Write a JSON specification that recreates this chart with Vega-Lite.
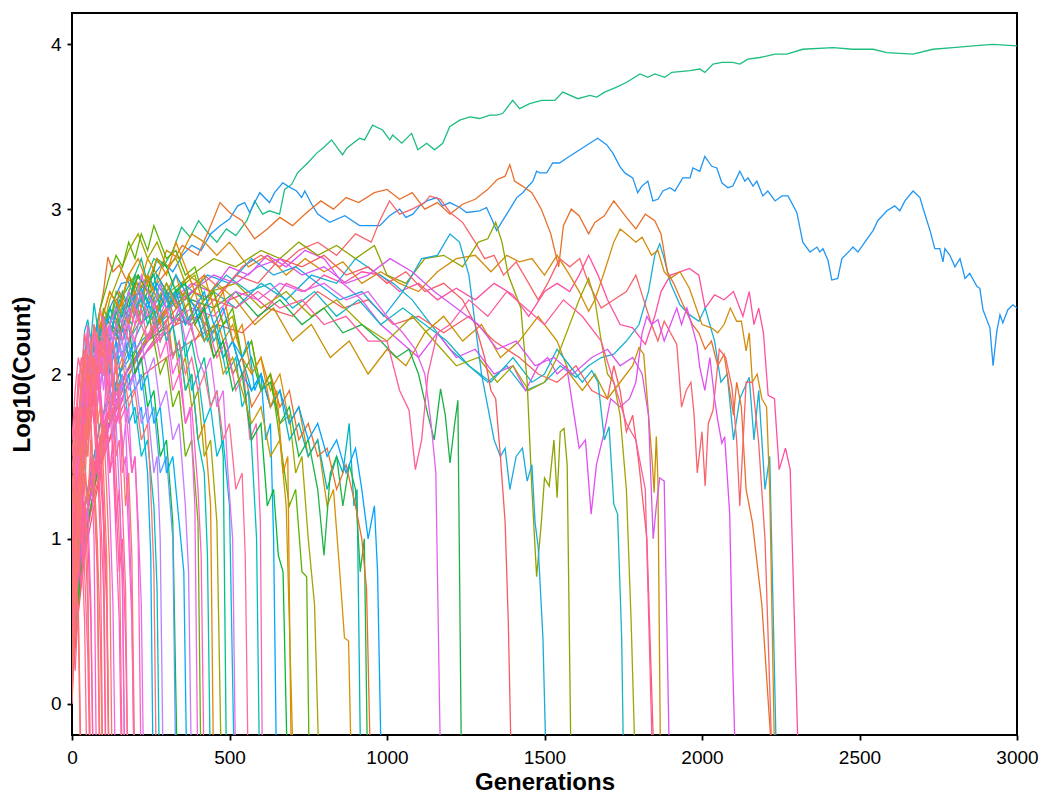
{
  "$schema": "https://vega.github.io/schema/vega-lite/v6.json",
  "width": 945,
  "height": 722,
  "autosize": {"type": "none"},
  "padding": {"left": 72, "top": 13, "right": 26, "bottom": 61},
  "background": "white",
  "config": {
    "view": {"stroke": "black", "strokeWidth": 2},
    "font": "Liberation Sans"
  },
  "data": {
    "format": {"type": "csv", "parse": {"g": "number", "v": "number"}},
    "values": "s,g,v\nG,0,0.4\nG,10,0.9\nG,20,1.3\nG,30,1.6\nG,45,1.9\nG,60,2.1\nG,80,2.2\nG,100,2.35\nG,120,2.3\nG,140,2.45\nG,170,2.5\nG,200,2.6\nG,230,2.55\nG,260,2.7\nG,290,2.65\nG,320,2.75\nG,348,2.89\nG,375,2.83\nG,402,2.93\nG,430,2.86\nG,460,2.8\nG,490,2.88\nG,520,2.84\nG,555,2.93\nG,580,3.05\nG,605,2.97\nG,627,2.99\nG,659,2.97\nG,675,3.12\nG,697,3.15\nG,716,3.22\nG,748,3.28\nG,777,3.34\nG,796,3.37\nG,824,3.42\nG,843,3.37\nG,859,3.33\nG,872,3.37\nG,913,3.43\nG,929,3.42\nG,954,3.51\nG,986,3.48\nG,1009,3.42\nG,1018,3.45\nG,1047,3.40\nG,1078,3.46\nG,1098,3.36\nG,1126,3.40\nG,1151,3.36\nG,1177,3.40\nG,1199,3.50\nG,1231,3.54\nG,1263,3.56\nG,1294,3.55\nG,1326,3.57\nG,1348,3.57\nG,1367,3.58\nG,1399,3.66\nG,1421,3.61\nG,1453,3.64\nG,1491,3.66\nG,1533,3.66\nG,1558,3.71\nG,1606,3.67\nG,1644,3.69\nG,1666,3.68\nG,1691,3.71\nG,1729,3.74\nG,1761,3.77\nG,1803,3.82\nG,1828,3.80\nG,1850,3.82\nG,1882,3.80\nG,1904,3.83\nG,1962,3.84\nG,1993,3.85\nG,2009,3.83\nG,2035,3.88\nG,2063,3.89\nG,2098,3.89\nG,2120,3.88\nG,2146,3.91\nG,2184,3.92\nG,2232,3.94\nG,2269,3.94\nG,2320,3.97\nG,2416,3.98\nG,2479,3.97\nG,2543,3.97\nG,2587,3.95\nG,2670,3.94\nG,2733,3.97\nG,2797,3.98\nG,2860,3.99\nG,2924,4.00\nG,3000,3.99\nB,0,0.3\nB,10,0.8\nB,20,1.2\nB,30,1.5\nB,40,1.8\nB,60,2.0\nB,80,2.2\nB,100,2.3\nB,120,2.4\nB,140,2.48\nB,157,2.55\nB,179,2.56\nB,200,2.45\nB,230,2.55\nB,260,2.6\nB,290,2.68\nB,320,2.62\nB,350,2.72\nB,380,2.78\nB,410,2.75\nB,440,2.85\nB,470,2.9\nB,500,2.94\nB,526,3.02\nB,548,3.04\nB,564,2.98\nB,596,3.10\nB,627,3.04\nB,643,3.10\nB,669,3.16\nB,685,3.14\nB,713,3.11\nB,729,3.07\nB,739,3.11\nB,761,3.03\nB,780,2.97\nB,818,2.92\nB,866,2.96\nB,913,2.90\nB,977,2.90\nB,1008,2.96\nB,1040,3.0\nB,1060,2.95\nB,1082,2.97\nB,1104,3.02\nB,1126,3.05\nB,1158,3.07\nB,1177,3.02\nB,1199,3.04\nB,1231,3.01\nB,1253,2.98\nB,1294,2.99\nB,1316,3.01\nB,1335,2.93\nB,1348,2.87\nB,1367,2.93\nB,1390,3.0\nB,1412,3.07\nB,1431,3.1\nB,1444,3.13\nB,1463,3.17\nB,1475,3.23\nB,1485,3.22\nB,1507,3.22\nB,1526,3.28\nB,1548,3.28\nB,1571,3.31\nB,1612,3.36\nB,1644,3.40\nB,1669,3.43\nB,1698,3.39\nB,1717,3.34\nB,1739,3.26\nB,1755,3.22\nB,1780,3.19\nB,1796,3.10\nB,1809,3.14\nB,1828,3.17\nB,1844,3.05\nB,1860,3.06\nB,1876,3.11\nB,1898,3.13\nB,1914,3.11\nB,1939,3.19\nB,1962,3.19\nB,1971,3.25\nB,1993,3.23\nB,2009,3.32\nB,2031,3.26\nB,2047,3.25\nB,2063,3.16\nB,2082,3.13\nB,2098,3.14\nB,2120,3.23\nB,2136,3.17\nB,2146,3.19\nB,2162,3.14\nB,2174,3.17\nB,2193,3.08\nB,2209,3.11\nB,2232,3.05\nB,2254,3.08\nB,2273,3.08\nB,2301,2.98\nB,2320,2.80\nB,2343,2.74\nB,2365,2.77\nB,2374,2.74\nB,2384,2.76\nB,2400,2.69\nB,2412,2.57\nB,2431,2.58\nB,2444,2.70\nB,2470,2.75\nB,2479,2.77\nB,2495,2.74\nB,2517,2.80\nB,2543,2.87\nB,2558,2.93\nB,2587,2.99\nB,2612,3.02\nB,2628,2.99\nB,2644,3.05\nB,2670,3.11\nB,2692,3.07\nB,2701,3.01\nB,2724,2.87\nB,2739,2.76\nB,2755,2.76\nB,2765,2.68\nB,2771,2.76\nB,2787,2.72\nB,2803,2.65\nB,2819,2.70\nB,2835,2.58\nB,2850,2.61\nB,2873,2.53\nB,2882,2.52\nB,2892,2.39\nB,2914,2.28\nB,2924,2.05\nB,2936,2.26\nB,2946,2.36\nB,2955,2.31\nB,2971,2.39\nB,2987,2.42\nB,3000,2.40\nM1,0,0.3\nM1,30,0.9\nM1,70,1.4\nM1,120,1.7\nM1,170,1.9\nM1,220,2.1\nM1,270,2.2\nM1,330,2.3\nM1,400,2.35\nM1,450,2.25\nM1,500,2.45\nM1,560,2.5\nM1,620,2.4\nM1,680,2.55\nM1,740,2.5\nM1,800,2.6\nM1,860,2.55\nM1,920,2.62\nM1,980,2.6\nM1,1040,2.5\nM1,1100,2.55\nM1,1160,2.45\nM1,1220,2.52\nM1,1280,2.45\nM1,1340,2.55\nM1,1400,2.48\nM1,1450,2.35\nM1,1500,2.5\nM1,1540,2.55\nM1,1580,2.5\nM1,1610,2.6\nM1,1640,2.72\nM1,1670,2.6\nM1,1700,2.45\nM1,1740,2.3\nM1,1780,2.28\nM1,1820,2.18\nM1,1850,2.35\nM1,1870,2.5\nM1,1900,2.6\nM1,1930,2.62\nM1,1960,2.64\nM1,1990,2.6\nM1,2010,2.4\nM1,2040,2.48\nM1,2070,2.45\nM1,2100,2.5\nM1,2130,2.35\nM1,2150,2.5\nM1,2165,2.3\nM1,2180,2.4\nM1,2195,2.25\nM1,2210,1.87\nM1,2230,1.85\nM1,2245,1.42\nM1,2265,1.55\nM1,2280,1.42\nM1,2308,-0.5\nM2,0,0.4\nM2,40,1.2\nM2,90,1.6\nM2,150,2.0\nM2,220,2.2\nM2,300,2.35\nM2,380,2.3\nM2,450,2.5\nM2,520,2.4\nM2,600,2.55\nM2,680,2.45\nM2,760,2.6\nM2,840,2.55\nM2,900,2.7\nM2,960,2.62\nM2,1020,2.55\nM2,1080,2.45\nM2,1140,2.3\nM2,1200,2.15\nM2,1260,2.05\nM2,1320,1.95\nM2,1380,2.05\nM2,1440,1.9\nM2,1500,1.95\nM2,1550,2.05\nM2,1600,1.98\nM2,1640,2.05\nM2,1680,2.1\nM2,1720,2.12\nM2,1760,2.2\nM2,1800,2.3\nM2,1830,2.5\nM2,1850,2.72\nM2,1866,2.79\nM2,1880,2.7\nM2,1900,2.55\nM2,1930,2.42\nM2,1960,2.36\nM2,1990,2.32\nM2,2010,2.4\nM2,2040,2.2\nM2,2060,1.95\nM2,2080,2.0\nM2,2100,1.6\nM2,2120,1.85\nM2,2150,1.98\nM2,2165,1.6\nM2,2180,1.9\nM2,2200,1.3\nM2,2215,1.5\nM2,2238,-0.5\nM3,0,0.3\nM3,20,1.2\nM3,40,1.8\nM3,60,2.2\nM3,80,2.3\nM3,100,2.5\nM3,114,2.71\nM3,130,2.62\nM3,150,2.66\nM3,170,2.58\nM3,200,2.55\nM3,250,2.5\nM3,300,2.62\nM3,350,2.78\nM3,400,2.72\nM3,440,2.9\nM3,470,3.04\nM3,500,2.98\nM3,540,2.93\nM3,580,2.82\nM3,620,2.88\nM3,660,2.95\nM3,700,2.9\nM3,740,2.97\nM3,790,3.05\nM3,830,3.0\nM3,870,3.07\nM3,910,3.04\nM3,960,3.10\nM3,1000,3.12\nM3,1040,3.06\nM3,1080,3.10\nM3,1120,3.0\nM3,1160,3.04\nM3,1200,2.97\nM3,1240,3.03\nM3,1280,3.06\nM3,1320,3.12\nM3,1350,3.18\nM3,1375,3.2\nM3,1390,3.27\nM3,1405,3.17\nM3,1430,3.14\nM3,1460,3.10\nM3,1490,3.0\nM3,1520,2.85\nM3,1545,2.65\nM3,1560,2.9\nM3,1585,3.0\nM3,1610,2.96\nM3,1640,2.85\nM3,1660,2.92\nM3,1690,2.96\nM3,1720,3.05\nM3,1760,2.95\nM3,1790,2.88\nM3,1820,2.97\nM3,1850,2.93\nM3,1870,2.85\nM3,1890,2.62\nM3,1910,2.55\nM3,1940,2.42\nM3,1970,2.3\nM3,1990,2.25\nM3,2010,2.15\nM3,2030,2.2\nM3,2050,2.05\nM3,2070,2.12\nM3,2100,1.75\nM3,2110,1.95\nM3,2125,1.8\nM3,2140,1.3\nM3,2160,1.1\nM3,2190,0.6\nM3,2228,-0.5\nM4,0,0.3\nM4,40,1.1\nM4,90,1.6\nM4,150,2.0\nM4,200,2.3\nM4,260,2.5\nM4,300,2.75\nM4,340,2.7\nM4,380,2.85\nM4,420,2.8\nM4,460,2.72\nM4,500,2.8\nM4,560,2.65\nM4,620,2.72\nM4,680,2.6\nM4,740,2.7\nM4,800,2.62\nM4,860,2.68\nM4,920,2.55\nM4,980,2.62\nM4,1040,2.55\nM4,1100,2.5\nM4,1160,2.62\nM4,1220,2.7\nM4,1280,2.72\nM4,1330,2.62\nM4,1380,2.72\nM4,1420,2.68\nM4,1460,2.7\nM4,1500,2.6\nM4,1540,2.72\nM4,1580,2.6\nM4,1610,2.5\nM4,1640,2.38\nM4,1660,2.45\nM4,1690,2.62\nM4,1720,2.8\nM4,1740,2.88\nM4,1760,2.85\nM4,1790,2.8\nM4,1810,2.83\nM4,1840,2.72\nM4,1860,2.75\nM4,1880,2.62\nM4,1900,2.58\nM4,1930,2.62\nM4,1960,2.52\nM4,2000,2.3\nM4,2030,2.28\nM4,2050,2.25\nM4,2070,2.3\nM4,2090,2.4\nM4,2110,2.32\nM4,2125,2.32\nM4,2140,2.14\nM4,2150,2.25\nM4,2160,1.95\nM4,2175,2.0\nM4,2190,1.85\nM4,2205,1.8\nM4,2215,1.3\nM4,2232,-0.5\nM5,0,0.1\nM5,30,0.8\nM5,70,1.3\nM5,120,1.7\nM5,180,2.0\nM5,240,2.2\nM5,300,2.4\nM5,360,2.5\nM5,420,2.6\nM5,480,2.5\nM5,540,2.65\nM5,600,2.72\nM5,660,2.65\nM5,720,2.75\nM5,780,2.8\nM5,840,2.72\nM5,900,2.85\nM5,950,2.8\nM5,977,2.93\nM5,1008,3.05\nM5,1040,2.97\nM5,1080,3.0\nM5,1120,3.04\nM5,1136,3.08\nM5,1170,3.06\nM5,1200,2.98\nM5,1240,2.92\nM5,1280,2.8\nM5,1310,2.7\nM5,1340,2.72\nM5,1370,2.6\nM5,1410,2.68\nM5,1450,2.55\nM5,1480,2.45\nM5,1510,2.55\nM5,1548,2.7\nM5,1580,2.65\nM5,1612,2.7\nM5,1640,2.55\nM5,1680,2.4\nM5,1720,2.45\nM5,1760,2.5\nM5,1790,2.6\nM5,1810,2.48\nM5,1840,2.3\nM5,1860,2.2\nM5,1880,2.32\nM5,1900,2.25\nM5,1920,2.18\nM5,1935,1.8\nM5,1950,1.9\nM5,1965,1.95\nM5,1975,1.75\nM5,1985,1.4\nM5,2000,1.65\nM5,2010,1.32\nM5,2020,1.7\nM5,2035,1.78\nM5,2055,2.15\nM5,2075,2.1\nM5,2095,1.92\nM5,2110,1.6\nM5,2120,1.2\nM5,2140,1.95\nM5,2160,1.95\nM5,2180,1.58\nM5,2200,1.0\nM5,2225,-0.5\nM6,0,0.5\nM6,30,1.1\nM6,80,1.5\nM6,140,1.9\nM6,200,2.1\nM6,260,2.3\nM6,320,2.45\nM6,380,2.55\nM6,440,2.5\nM6,500,2.65\nM6,560,2.6\nM6,620,2.72\nM6,680,2.65\nM6,740,2.75\nM6,800,2.7\nM6,860,2.55\nM6,920,2.45\nM6,980,2.3\nM6,1040,2.2\nM6,1100,2.1\nM6,1160,2.25\nM6,1220,2.1\nM6,1280,2.15\nM6,1340,2.0\nM6,1400,2.05\nM6,1440,1.9\nM6,1480,2.05\nM6,1510,2.1\nM6,1540,2.0\nM6,1570,2.05\nM6,1590,1.8\nM6,1610,1.55\nM6,1630,1.6\nM6,1648,1.15\nM6,1665,1.45\nM6,1690,1.65\nM6,1710,1.85\nM6,1740,1.8\nM6,1770,1.85\nM6,1790,1.95\nM6,1810,2.25\nM6,1825,2.35\nM6,1840,2.3\nM6,1860,2.33\nM6,1880,2.2\nM6,1900,2.3\nM6,1920,2.4\nM6,1935,2.3\nM6,1952,2.4\nM6,1970,2.28\nM6,1984,2.18\nM6,1993,2.04\nM6,2009,1.9\nM6,2025,2.1\nM6,2040,1.85\nM6,2050,1.72\nM6,2063,1.58\nM6,2072,1.62\nM6,2088,1.15\nM6,2098,0.2\nM6,2108,-0.5\nM7,0,0.2\nM7,40,1.0\nM7,100,1.5\nM7,160,1.8\nM7,230,2.0\nM7,300,2.1\nM7,380,2.2\nM7,460,2.3\nM7,540,2.25\nM7,620,2.4\nM7,700,2.35\nM7,780,2.5\nM7,860,2.4\nM7,940,2.45\nM7,1020,2.3\nM7,1100,2.35\nM7,1180,2.25\nM7,1260,2.35\nM7,1340,2.2\nM7,1420,2.1\nM7,1480,2.0\nM7,1540,1.95\nM7,1600,2.05\nM7,1650,1.9\nM7,1700,1.85\nM7,1720,2.05\nM7,1740,1.9\nM7,1760,1.65\nM7,1780,1.75\nM7,1800,1.45\nM7,1825,1.0\nM7,1850,-0.5\nM8,0,0.3\nM8,30,1.0\nM8,80,1.5\nM8,140,1.9\nM8,200,2.1\nM8,270,2.3\nM8,340,2.5\nM8,400,2.4\nM8,460,2.55\nM8,520,2.45\nM8,580,2.3\nM8,640,2.4\nM8,700,2.2\nM8,760,2.3\nM8,820,2.1\nM8,880,2.2\nM8,940,2.0\nM8,1000,2.15\nM8,1060,2.05\nM8,1120,2.25\nM8,1180,2.35\nM8,1240,2.2\nM8,1300,2.3\nM8,1360,2.1\nM8,1420,2.2\nM8,1480,2.35\nM8,1540,2.2\nM8,1580,2.0\nM8,1620,1.9\nM8,1660,2.0\nM8,1700,1.85\nM8,1740,1.95\nM8,1780,2.05\nM8,1800,2.16\nM8,1815,2.12\nM8,1830,1.76\nM8,1843,1.44\nM8,1848,1.28\nM8,1855,1.62\nM8,1860,1.36\nM8,1869,-0.5\nM9,0,0.4\nM9,40,1.2\nM9,90,1.7\nM9,150,2.1\nM9,210,2.3\nM9,280,2.4\nM9,350,2.55\nM9,420,2.45\nM9,490,2.6\nM9,560,2.5\nM9,630,2.55\nM9,700,2.4\nM9,770,2.5\nM9,840,2.35\nM9,910,2.45\nM9,980,2.3\nM9,1050,2.4\nM9,1120,2.3\nM9,1190,2.2\nM9,1260,2.05\nM9,1330,1.95\nM9,1400,2.1\nM9,1460,1.95\nM9,1500,2.0\nM9,1540,2.15\nM9,1580,2.05\nM9,1620,1.95\nM9,1650,2.02\nM9,1670,1.95\nM9,1690,1.6\nM9,1705,1.68\nM9,1720,1.21\nM9,1732,1.15\nM9,1745,0.4\nM9,1752,-0.5\nM10,0,0.2\nM10,40,1.0\nM10,100,1.6\nM10,160,1.9\nM10,230,2.2\nM10,300,2.4\nM10,370,2.6\nM10,440,2.5\nM10,520,2.55\nM10,600,2.4\nM10,680,2.5\nM10,760,2.35\nM10,840,2.45\nM10,920,2.3\nM10,1000,2.2\nM10,1080,2.35\nM10,1150,2.2\nM10,1220,2.05\nM10,1290,2.1\nM10,1350,1.95\nM10,1400,2.05\nM10,1450,1.9\nM10,1500,1.95\nM10,1540,2.1\nM10,1580,2.3\nM10,1610,2.45\nM10,1640,2.58\nM10,1660,2.45\nM10,1680,2.2\nM10,1700,2.0\nM10,1720,1.95\nM10,1740,1.75\nM10,1760,1.3\nM10,1775,0.5\nM10,1790,-0.5\nM11,0,0.3\nM11,40,1.1\nM11,100,1.6\nM11,170,2.0\nM11,240,2.3\nM11,310,2.5\nM11,380,2.6\nM11,450,2.7\nM11,520,2.65\nM11,600,2.75\nM11,660,2.7\nM11,720,2.8\nM11,780,2.72\nM11,840,2.78\nM11,900,2.7\nM11,960,2.78\nM11,1000,2.6\nM11,1060,2.55\nM11,1120,2.7\nM11,1180,2.72\nM11,1240,2.65\nM11,1290,2.8\nM11,1320,2.82\nM11,1345,2.92\nM11,1365,2.8\nM11,1385,2.6\nM11,1405,2.5\nM11,1425,2.4\nM11,1445,1.95\nM11,1460,1.3\nM11,1475,0.77\nM11,1490,1.1\nM11,1500,1.37\nM11,1515,1.32\nM11,1530,1.6\nM11,1540,1.25\nM11,1550,1.65\nM11,1562,1.67\nM11,1572,1.45\nM11,1585,-0.5\nM12,0,0.4\nM12,40,1.2\nM12,90,1.7\nM12,150,2.0\nM12,220,2.3\nM12,290,2.5\nM12,360,2.45\nM12,430,2.6\nM12,500,2.55\nM12,570,2.7\nM12,640,2.6\nM12,710,2.65\nM12,780,2.55\nM12,850,2.45\nM12,920,2.5\nM12,990,2.35\nM12,1050,2.5\nM12,1110,2.7\nM12,1160,2.72\nM12,1200,2.85\nM12,1230,2.8\nM12,1260,2.6\nM12,1280,2.3\nM12,1300,2.0\nM12,1320,1.8\nM12,1340,1.6\nM12,1360,1.5\nM12,1375,1.55\nM12,1390,1.3\nM12,1410,1.5\nM12,1430,1.55\nM12,1445,1.35\nM12,1460,1.45\nM12,1470,1.1\nM12,1480,0.95\nM12,1495,0.4\nM12,1507,-0.5\nM13,0,0.2\nM13,40,0.9\nM13,100,1.5\nM13,170,1.9\nM13,240,2.15\nM13,310,2.35\nM13,380,2.5\nM13,450,2.45\nM13,520,2.6\nM13,590,2.55\nM13,660,2.7\nM13,730,2.65\nM13,800,2.72\nM13,870,2.6\nM13,940,2.65\nM13,1000,2.55\nM13,1060,2.62\nM13,1120,2.5\nM13,1180,2.55\nM13,1240,2.45\nM13,1280,2.3\nM13,1310,2.1\nM13,1330,1.9\nM13,1345,1.85\nM13,1360,1.5\nM13,1375,1.1\nM13,1385,0.5\nM13,1396,-0.5\nM14,0,0.3\nM14,40,1.0\nM14,100,1.6\nM14,170,2.0\nM14,240,2.2\nM14,310,2.3\nM14,380,2.45\nM14,450,2.4\nM14,520,2.5\nM14,590,2.35\nM14,660,2.45\nM14,730,2.3\nM14,800,2.4\nM14,860,2.25\nM14,920,2.3\nM14,980,2.2\nM14,1030,2.1\nM14,1070,2.15\nM14,1100,2.0\nM14,1130,1.75\nM14,1150,1.6\nM14,1170,1.91\nM14,1185,1.75\nM14,1200,1.46\nM14,1215,1.7\nM14,1225,1.84\nM14,1237,-0.5\nM15,0,0.5\nM15,40,1.1\nM15,100,1.6\nM15,170,1.9\nM15,240,2.15\nM15,310,2.3\nM15,380,2.4\nM15,450,2.35\nM15,520,2.5\nM15,590,2.45\nM15,660,2.55\nM15,730,2.5\nM15,800,2.55\nM15,870,2.45\nM15,940,2.5\nM15,1000,2.35\nM15,1050,2.25\nM15,1090,2.15\nM15,1120,2.0\nM15,1140,1.7\nM15,1155,1.4\nM15,1171,-0.5\nM16,0,0.6\nM16,40,1.2\nM16,100,1.7\nM16,170,2.0\nM16,240,2.2\nM16,310,2.35\nM16,380,2.3\nM16,450,2.45\nM16,520,2.4\nM16,590,2.5\nM16,660,2.4\nM16,730,2.45\nM16,800,2.3\nM16,870,2.35\nM16,940,2.2\nM16,1000,2.2\nM16,1040,1.9\nM16,1070,1.78\nM16,1090,1.42\nM16,1110,1.6\nM16,1130,2.0\nM16,1160,2.25\nM16,1200,2.3\nM16,1260,2.45\nM16,1320,2.35\nM16,1380,2.5\nM16,1440,2.4\nM16,1500,2.3\nM16,1560,2.45\nM16,1620,2.35\nM16,1680,2.2\nM16,1720,1.95\nM16,1760,1.7\nM16,1790,1.6\nM16,1820,1.3\nM16,1845,-0.5\nM17,0,0.4\nM17,40,1.1\nM17,100,1.6\nM17,170,2.0\nM17,240,2.2\nM17,310,2.4\nM17,380,2.5\nM17,450,2.6\nM17,520,2.55\nM17,590,2.65\nM17,660,2.7\nM17,730,2.6\nM17,800,2.65\nM17,870,2.55\nM17,940,2.6\nM17,1010,2.7\nM17,1080,2.62\nM17,1150,2.5\nM17,1220,2.4\nM17,1290,2.3\nM17,1350,2.15\nM17,1410,2.2\nM17,1470,2.05\nM17,1530,2.1\nM17,1590,2.0\nM17,1650,2.1\nM17,1700,2.15\nM17,1740,2.05\nM17,1780,2.1\nM17,1810,2.0\nM17,1830,1.75\nM17,1845,1.0\nM17,1855,1.2\nM17,1866,1.37\nM17,1880,1.35\nM17,1898,-0.5\nS1,0,0.3\nS1,20,1.0\nS1,40,1.6\nS1,60,1.9\nS1,90,2.2\nS1,120,2.45\nS1,150,2.6\nS1,180,2.75\nS1,210,2.85\nS1,240,2.7\nS1,270,2.8\nS1,300,2.65\nS1,330,2.7\nS1,360,2.55\nS1,390,2.6\nS1,420,2.4\nS1,450,2.5\nS1,480,2.3\nS1,510,2.35\nS1,540,2.1\nS1,570,2.2\nS1,600,1.9\nS1,630,2.0\nS1,660,1.7\nS1,690,1.75\nS1,710,1.4\nS1,730,1.5\nS1,750,1.0\nS1,770,0.6\nS1,786,-0.5\nS2,0,0.4\nS2,20,1.2\nS2,40,1.7\nS2,60,2.0\nS2,90,2.3\nS2,120,2.5\nS2,150,2.4\nS2,180,2.6\nS2,210,2.5\nS2,240,2.7\nS2,270,2.6\nS2,300,2.5\nS2,330,2.6\nS2,360,2.4\nS2,390,2.5\nS2,420,2.3\nS2,450,2.4\nS2,480,2.2\nS2,510,2.3\nS2,540,2.1\nS2,570,2.0\nS2,600,2.1\nS2,630,1.9\nS2,660,2.0\nS2,690,1.7\nS2,720,1.8\nS2,750,1.5\nS2,780,1.6\nS2,810,1.2\nS2,830,1.3\nS2,850,0.8\nS2,865,0.4\nS2,878,0.38\nS2,888,-0.5\nS3,0,0.6\nS3,20,1.3\nS3,40,1.8\nS3,60,2.1\nS3,90,2.3\nS3,120,2.2\nS3,150,2.45\nS3,180,2.35\nS3,210,2.55\nS3,240,2.45\nS3,270,2.6\nS3,300,2.5\nS3,330,2.4\nS3,360,2.5\nS3,390,2.3\nS3,420,2.4\nS3,450,2.2\nS3,480,2.3\nS3,510,2.0\nS3,540,2.1\nS3,570,1.9\nS3,600,2.0\nS3,630,1.8\nS3,660,1.9\nS3,690,1.6\nS3,720,1.7\nS3,750,1.5\nS3,780,1.6\nS3,810,1.3\nS3,840,1.5\nS3,860,1.4\nS3,880,1.7\nS3,895,1.2\nS3,905,1.3\nS3,917,-0.5\nS4,0,0.2\nS4,20,0.9\nS4,40,1.5\nS4,60,1.8\nS4,90,2.1\nS4,120,2.3\nS4,150,2.2\nS4,180,2.4\nS4,210,2.35\nS4,240,2.5\nS4,270,2.4\nS4,300,2.55\nS4,330,2.45\nS4,360,2.3\nS4,390,2.4\nS4,420,2.2\nS4,450,2.3\nS4,480,2.1\nS4,510,2.2\nS4,540,2.0\nS4,570,2.1\nS4,600,1.9\nS4,630,1.95\nS4,660,1.7\nS4,690,1.8\nS4,720,1.5\nS4,750,1.6\nS4,780,1.3\nS4,800,0.9\nS4,820,1.4\nS4,840,1.5\nS4,860,1.2\nS4,880,1.45\nS4,900,1.3\nS4,915,0.8\nS4,928,1.0\nS4,939,-0.5\nS5,0,0.5\nS5,20,1.2\nS5,40,1.7\nS5,60,2.0\nS5,90,2.3\nS5,120,2.2\nS5,150,2.5\nS5,180,2.4\nS5,210,2.6\nS5,240,2.5\nS5,270,2.4\nS5,300,2.5\nS5,330,2.3\nS5,360,2.4\nS5,390,2.2\nS5,420,2.3\nS5,450,2.1\nS5,480,2.2\nS5,510,2.0\nS5,540,2.1\nS5,570,1.8\nS5,600,1.9\nS5,630,2.0\nS5,660,1.8\nS5,690,1.9\nS5,720,1.6\nS5,750,1.7\nS5,780,1.5\nS5,810,1.55\nS5,840,1.3\nS5,870,1.45\nS5,900,1.2\nS5,920,1.0\nS5,935,0.7\nS5,949,-0.5\nS6,0,0.3\nS6,20,1.0\nS6,40,1.5\nS6,60,1.9\nS6,90,2.2\nS6,120,2.4\nS6,150,2.3\nS6,180,2.5\nS6,210,2.4\nS6,240,2.6\nS6,270,2.5\nS6,300,2.4\nS6,330,2.5\nS6,360,2.3\nS6,390,2.4\nS6,420,2.2\nS6,450,2.3\nS6,480,2.1\nS6,510,2.2\nS6,540,2.0\nS6,570,1.9\nS6,600,2.0\nS6,630,1.8\nS6,660,1.9\nS6,690,1.7\nS6,720,1.8\nS6,750,1.6\nS6,780,1.7\nS6,810,1.5\nS6,840,1.6\nS6,870,1.4\nS6,900,1.55\nS6,920,1.3\nS6,940,1.0\nS6,960,1.2\nS6,970,0.8\nS6,983,-0.5\nS7,0,0.5\nS7,20,1.3\nS7,40,1.8\nS7,60,2.1\nS7,90,2.4\nS7,120,2.6\nS7,140,2.72\nS7,160,2.65\nS7,180,2.8\nS7,200,2.7\nS7,220,2.85\nS7,240,2.75\nS7,260,2.9\nS7,280,2.8\nS7,300,2.7\nS7,330,2.75\nS7,360,2.6\nS7,390,2.65\nS7,420,2.45\nS7,450,2.5\nS7,480,2.3\nS7,510,2.4\nS7,540,2.1\nS7,570,2.2\nS7,600,1.9\nS7,630,2.0\nS7,660,1.6\nS7,690,1.2\nS7,710,1.3\nS7,730,0.8\nS7,745,0.77\nS7,754,-0.5\ns21,0,0.3\ns21,10,0.9\ns21,20,1.3\ns21,40,1.7\ns21,60,2.0\ns21,80,2.2\ns21,100,2.1\ns21,120,2.3\ns21,140,2.4\ns21,160,2.2\ns21,180,2.3\ns21,200,2.0\ns21,220,2.1\ns21,240,1.8\ns21,260,1.9\ns21,280,1.5\ns21,300,1.6\ns21,320,1.1\ns21,335,-0.5\ns22,0,0.7\ns22,10,1.2\ns22,20,1.5\ns22,40,1.9\ns22,60,2.2\ns22,80,2.1\ns22,100,2.4\ns22,120,2.3\ns22,140,2.5\ns22,160,2.45\ns22,180,2.6\ns22,200,2.5\ns22,220,2.3\ns22,240,2.4\ns22,260,2.2\ns22,280,2.0\ns22,300,2.1\ns22,320,1.8\ns22,340,1.9\ns22,360,1.5\ns22,380,1.6\ns22,400,1.1\ns22,410,-0.5\ns24,0,1.0\ns24,10,1.4\ns24,20,1.6\ns24,40,1.9\ns24,60,2.1\ns24,80,1.95\ns24,100,2.2\ns24,120,2.05\ns24,140,2.3\ns24,160,2.1\ns24,180,2.2\ns24,200,1.9\ns24,220,2.0\ns24,240,1.7\ns24,260,1.8\ns24,280,1.4\ns24,300,1.5\ns24,320,1.0\ns24,330,-0.5\ns25,0,0.2\ns25,10,0.8\ns25,20,1.2\ns25,40,1.6\ns25,60,1.9\ns25,80,2.2\ns25,100,2.1\ns25,120,2.3\ns25,140,2.2\ns25,160,2.45\ns25,180,2.3\ns25,200,2.5\ns25,220,2.4\ns25,240,2.6\ns25,260,2.45\ns25,280,2.3\ns25,300,2.4\ns25,320,2.1\ns25,340,2.2\ns25,360,1.9\ns25,380,2.0\ns25,400,1.6\ns25,420,1.7\ns25,440,1.2\ns25,450,-0.5\ns26,0,0.5\ns26,20,1.3\ns26,40,1.8\ns26,60,2.0\ns26,80,2.2\ns26,100,2.35\ns26,120,2.2\ns26,140,2.4\ns26,160,2.3\ns26,180,2.5\ns26,200,2.6\ns26,220,2.45\ns26,240,2.55\ns26,260,2.35\ns26,280,2.4\ns26,300,2.2\ns26,320,2.3\ns26,340,2.0\ns26,360,2.1\ns26,380,1.8\ns26,400,1.9\ns26,420,1.5\ns26,440,1.6\ns26,460,1.1\ns26,475,-0.5\ns27,0,0.6\ns27,20,1.4\ns27,40,1.8\ns27,60,2.1\ns27,80,2.3\ns27,100,2.2\ns27,120,2.4\ns27,140,2.3\ns27,160,2.5\ns27,180,2.4\ns27,200,2.6\ns27,220,2.7\ns27,240,2.55\ns27,260,2.6\ns27,280,2.4\ns27,300,2.5\ns27,320,2.3\ns27,340,2.4\ns27,360,2.1\ns27,380,2.2\ns27,400,2.0\ns27,420,2.1\ns27,440,1.8\ns27,460,1.9\ns27,480,1.5\ns27,491,-0.5\ns28,0,0.3\ns28,20,1.1\ns28,40,1.6\ns28,60,1.9\ns28,80,2.1\ns28,100,2.0\ns28,120,2.2\ns28,140,2.1\ns28,160,2.3\ns28,180,2.2\ns28,200,2.4\ns28,220,2.3\ns28,240,2.45\ns28,260,2.3\ns28,280,2.4\ns28,300,2.2\ns28,320,2.3\ns28,340,2.1\ns28,360,2.2\ns28,380,1.9\ns28,400,2.0\ns28,420,1.7\ns28,440,1.8\ns28,460,1.5\ns28,480,1.6\ns28,500,1.2\ns28,516,-0.5\ns29,0,0.4\ns29,20,1.2\ns29,40,1.7\ns29,60,2.0\ns29,80,2.2\ns29,100,2.3\ns29,130,2.2\ns29,160,2.4\ns29,190,2.3\ns29,220,2.5\ns29,250,2.4\ns29,280,2.55\ns29,310,2.4\ns29,340,2.5\ns29,370,2.3\ns29,400,2.4\ns29,430,2.2\ns29,460,2.3\ns29,490,2.0\ns29,520,2.1\ns29,540,1.8\ns29,560,1.9\ns29,575,1.4\ns29,586,1.0\ns29,596,-0.5\ns30,0,0.8\ns30,20,1.5\ns30,40,1.9\ns30,60,2.1\ns30,80,2.0\ns30,100,2.2\ns30,130,2.35\ns30,160,2.2\ns30,190,2.4\ns30,220,2.3\ns30,250,2.45\ns30,280,2.35\ns30,310,2.5\ns30,340,2.4\ns30,370,2.3\ns30,400,2.45\ns30,430,2.3\ns30,460,2.1\ns30,490,2.2\ns30,520,1.9\ns30,545,2.0\ns30,565,1.6\ns30,585,1.7\ns30,598,1.1\ns30,605,-0.5\ns31,0,0.5\ns31,20,1.2\ns31,40,1.7\ns31,60,2.0\ns31,90,2.2\ns31,120,2.35\ns31,150,2.2\ns31,180,2.4\ns31,210,2.5\ns31,240,2.4\ns31,270,2.55\ns31,300,2.45\ns31,330,2.6\ns31,360,2.5\ns31,390,2.4\ns31,420,2.5\ns31,450,2.3\ns31,480,2.4\ns31,510,2.2\ns31,540,2.1\ns31,560,2.2\ns31,580,1.9\ns31,600,2.0\ns31,615,1.6\ns31,630,1.7\ns31,640,1.0\ns31,650,-0.5\ns32,0,0.3\ns32,20,1.0\ns32,40,1.5\ns32,60,1.9\ns32,90,2.1\ns32,120,2.3\ns32,150,2.25\ns32,180,2.45\ns32,210,2.6\ns32,240,2.5\ns32,270,2.7\ns32,300,2.65\ns32,330,2.5\ns32,360,2.55\ns32,390,2.3\ns32,420,2.4\ns32,450,2.1\ns32,480,2.2\ns32,510,1.9\ns32,540,2.0\ns32,570,1.6\ns32,600,1.7\ns32,620,1.2\ns32,640,1.3\ns32,655,0.9\ns32,670,0.8\ns32,685,-0.5\ns33,0,0.6\ns33,20,1.3\ns33,40,1.8\ns33,60,2.1\ns33,90,2.3\ns33,120,2.5\ns33,150,2.4\ns33,180,2.6\ns33,210,2.7\ns33,240,2.55\ns33,270,2.7\ns33,300,2.6\ns33,330,2.8\ns33,360,2.65\ns33,390,2.5\ns33,420,2.6\ns33,450,2.4\ns33,480,2.5\ns33,510,2.2\ns33,540,2.3\ns33,570,2.0\ns33,600,2.1\ns33,630,1.8\ns33,650,1.9\ns33,670,1.4\ns33,685,1.5\ns33,697,-0.5\ns34,0,0.4\ns34,20,1.1\ns34,40,1.6\ns34,60,2.0\ns34,90,2.2\ns34,120,2.1\ns34,150,2.4\ns34,180,2.3\ns34,210,2.5\ns34,240,2.6\ns34,270,2.45\ns34,300,2.55\ns34,330,2.4\ns34,360,2.5\ns34,390,2.3\ns34,420,2.2\ns34,450,2.3\ns34,480,2.0\ns34,510,2.1\ns34,540,1.9\ns34,570,1.7\ns34,600,1.8\ns34,630,1.5\ns34,660,1.6\ns34,680,1.2\ns34,704,-0.5\ns50,0,0.6\ns50,10,1.0\ns50,20,1.4\ns50,40,1.8\ns50,60,1.9\ns50,80,2.1\ns50,100,2.0\ns50,120,2.2\ns50,140,2.05\ns50,160,2.3\ns50,180,2.1\ns50,200,2.2\ns50,220,1.9\ns50,240,2.0\ns50,260,1.7\ns50,280,1.8\ns50,300,1.4\ns50,320,1.5\ns50,340,1.1\ns50,355,0.8\ns50,365,-0.5\ns51,0,0.7\ns51,20,1.4\ns51,40,1.9\ns51,60,2.1\ns51,80,2.0\ns51,100,2.2\ns51,120,2.1\ns51,140,2.3\ns51,160,2.2\ns51,180,2.4\ns51,200,2.3\ns51,220,2.5\ns51,240,2.35\ns51,260,2.4\ns51,280,2.2\ns51,300,2.3\ns51,320,2.0\ns51,340,2.1\ns51,360,1.7\ns51,375,1.8\ns51,390,1.2\ns51,400,-0.5\ns52,0,0.4\ns52,20,1.2\ns52,40,1.7\ns52,60,1.9\ns52,80,2.2\ns52,100,2.1\ns52,120,2.3\ns52,140,2.2\ns52,160,2.1\ns52,180,2.3\ns52,200,2.2\ns52,220,2.4\ns52,240,2.2\ns52,260,2.3\ns52,280,2.1\ns52,300,2.2\ns52,320,1.9\ns52,340,2.0\ns52,360,1.7\ns52,380,1.8\ns52,400,1.3\ns52,410,0.9\ns52,420,-0.5\ns53,0,0.5\ns53,20,1.2\ns53,40,1.6\ns53,60,1.9\ns53,80,1.8\ns53,100,2.1\ns53,120,2.0\ns53,140,2.2\ns53,160,2.1\ns53,180,2.3\ns53,200,2.15\ns53,220,2.2\ns53,240,2.0\ns53,260,2.1\ns53,280,1.8\ns53,300,1.9\ns53,320,1.6\ns53,340,1.7\ns53,360,1.2\ns53,370,0.8\ns53,380,-0.5\ns54,0,0.5\ns54,20,1.3\ns54,40,1.7\ns54,60,2.0\ns54,80,2.2\ns54,100,2.3\ns54,120,2.2\ns54,140,2.4\ns54,160,2.35\ns54,180,2.5\ns54,200,2.4\ns54,220,2.45\ns54,240,2.3\ns54,260,2.4\ns54,280,2.2\ns54,300,2.3\ns54,320,2.1\ns54,340,2.2\ns54,360,1.9\ns54,380,2.0\ns54,400,1.6\ns54,420,1.4\ns54,430,0.9\ns54,440,-0.5\ns55,0,0.6\ns55,20,1.3\ns55,40,1.8\ns55,60,2.0\ns55,80,2.2\ns55,100,2.1\ns55,120,2.3\ns55,140,2.4\ns55,160,2.3\ns55,180,2.5\ns55,200,2.4\ns55,220,2.6\ns55,240,2.5\ns55,260,2.4\ns55,280,2.55\ns55,300,2.4\ns55,320,2.3\ns55,340,2.4\ns55,360,2.2\ns55,380,2.3\ns55,400,2.1\ns55,420,2.0\ns55,440,2.1\ns55,460,1.8\ns55,480,1.9\ns55,495,1.4\ns55,510,1.0\ns55,520,-0.5\ns56,0,0.3\ns56,20,1.1\ns56,40,1.6\ns56,60,1.9\ns56,80,2.1\ns56,100,2.0\ns56,120,2.2\ns56,140,2.1\ns56,160,2.3\ns56,180,2.2\ns56,200,2.4\ns56,220,2.3\ns56,240,2.2\ns56,260,2.35\ns56,280,2.2\ns56,300,2.3\ns56,320,2.1\ns56,340,2.2\ns56,360,2.0\ns56,380,2.1\ns56,400,1.9\ns56,420,2.0\ns56,440,1.8\ns56,460,1.9\ns56,480,1.6\ns56,500,1.7\ns56,520,1.3\ns56,540,1.4\ns56,550,0.9\ns56,560,-0.5\ns20,0,0.5\ns20,10,1.0\ns20,20,1.4\ns20,30,1.7\ns20,40,2.1\ns20,50,2.27\ns20,60,2.0\ns20,70,2.2\ns20,80,2.3\ns20,90,2.1\ns20,100,2.35\ns20,110,2.2\ns20,120,2.0\ns20,140,2.2\ns20,160,1.9\ns20,180,2.0\ns20,200,1.7\ns20,220,1.8\ns20,240,1.4\ns20,250,0.9\ns20,258,-0.5\ns23,0,0.4\ns23,10,0.9\ns23,20,1.5\ns23,30,1.9\ns23,40,2.26\ns23,50,2.33\ns23,60,2.2\ns23,70,2.43\ns23,80,2.3\ns23,100,2.2\ns23,120,2.1\ns23,140,1.9\ns23,160,2.0\ns23,180,1.7\ns23,200,1.8\ns23,220,1.5\ns23,240,1.6\ns23,260,1.2\ns23,270,0.7\ns23,278,-0.5\ns46,0,0.8\ns46,10,1.3\ns46,20,1.7\ns46,30,1.9\ns46,40,1.8\ns46,50,2.1\ns46,60,2.0\ns46,80,2.2\ns46,100,2.1\ns46,120,2.3\ns46,140,2.1\ns46,160,2.2\ns46,180,1.9\ns46,200,2.0\ns46,220,1.7\ns46,240,1.8\ns46,260,1.4\ns46,270,1.5\ns46,280,1.0\ns46,290,-0.5\ns19,0,0.6\ns19,10,1.1\ns19,20,1.5\ns19,30,1.8\ns19,40,2.0\ns19,50,2.2\ns19,60,2.0\ns19,70,2.3\ns19,80,2.1\ns19,90,1.9\ns19,100,2.1\ns19,110,1.8\ns19,120,2.0\ns19,130,1.6\ns19,140,1.7\ns19,150,1.3\ns19,160,0.8\ns19,168,-0.5\ns12,0,1.1\ns12,10,1.5\ns12,20,1.4\ns12,30,1.8\ns12,40,2.0\ns12,50,1.8\ns12,60,2.1\ns12,70,2.25\ns12,80,2.0\ns12,90,2.15\ns12,100,1.9\ns12,110,2.1\ns12,120,2.3\ns12,130,2.0\ns12,140,1.8\ns12,150,1.9\ns12,160,1.5\ns12,170,1.7\ns12,180,1.2\ns12,190,0.6\ns12,198,-0.5\ns45,0,0.4\ns45,10,0.9\ns45,20,1.3\ns45,30,1.2\ns45,40,1.6\ns45,50,1.8\ns45,60,1.7\ns45,70,2.0\ns45,80,1.8\ns45,90,2.1\ns45,100,2.2\ns45,110,2.0\ns45,120,2.2\ns45,130,1.9\ns45,140,2.1\ns45,150,1.8\ns45,160,2.0\ns45,170,1.7\ns45,180,1.8\ns45,190,1.4\ns45,200,1.5\ns45,210,1.1\ns45,220,0.6\ns45,228,-0.5\ns7,0,0.7\ns7,10,1.1\ns7,20,1.4\ns7,30,1.7\ns7,40,1.6\ns7,50,2.0\ns7,60,2.15\ns7,70,1.9\ns7,80,2.05\ns7,90,1.8\ns7,100,1.5\ns7,110,1.6\ns7,120,1.2\ns7,130,0.6\ns7,138,-0.5\ns40,0,1.2\ns40,10,1.0\ns40,20,1.4\ns40,30,1.3\ns40,40,0.9\ns40,50,1.2\ns40,60,0.6\ns40,68,-0.5\ns15,0,0.5\ns15,10,1.0\ns15,20,1.3\ns15,30,1.6\ns15,40,1.5\ns15,50,1.9\ns15,60,2.1\ns15,70,1.95\ns15,80,2.2\ns15,90,2.1\ns15,100,2.35\ns15,110,2.2\ns15,120,1.9\ns15,130,2.0\ns15,140,1.7\ns15,150,1.8\ns15,160,1.4\ns15,170,1.5\ns15,180,1.0\ns15,190,0.5\ns15,198,-0.5\ns3,0,1.0\ns3,10,1.5\ns3,20,1.8\ns3,30,1.6\ns3,40,2.0\ns3,50,1.9\ns3,60,1.5\ns3,70,1.0\ns3,78,-0.5\ns43,0,0.7\ns43,10,1.2\ns43,20,1.6\ns43,30,1.4\ns43,40,1.8\ns43,50,1.7\ns43,60,2.0\ns43,70,1.8\ns43,80,2.1\ns43,90,1.9\ns43,100,1.6\ns43,110,1.8\ns43,120,1.4\ns43,130,1.5\ns43,140,1.0\ns43,150,0.5\ns43,158,-0.5\ns10,0,0.9\ns10,10,1.3\ns10,20,1.7\ns10,30,1.5\ns10,40,1.9\ns10,50,2.1\ns10,60,1.8\ns10,70,2.0\ns10,80,2.2\ns10,90,1.9\ns10,100,1.7\ns10,110,2.0\ns10,120,1.8\ns10,130,1.5\ns10,140,1.1\ns10,150,1.3\ns10,160,0.7\ns10,168,-0.5\ns47,0,1.1\ns47,10,1.5\ns47,20,1.9\ns47,30,2.1\ns47,40,2.0\ns47,50,2.3\ns47,60,2.2\ns47,70,2.0\ns47,80,2.25\ns47,90,2.1\ns47,100,2.3\ns47,110,2.1\ns47,120,2.2\ns47,130,1.9\ns47,140,2.1\ns47,150,1.7\ns47,170,1.8\ns47,190,1.4\ns47,200,1.5\ns47,210,1.0\ns47,220,-0.5\ns18,0,0.2\ns18,10,0.8\ns18,20,1.2\ns18,30,1.5\ns18,40,1.8\ns18,50,1.6\ns18,60,1.9\ns18,70,1.7\ns18,80,2.0\ns18,90,1.8\ns18,100,1.5\ns18,110,1.7\ns18,120,1.4\ns18,130,1.6\ns18,140,1.2\ns18,150,0.8\ns18,160,1.0\ns18,170,0.4\ns18,178,-0.5\ns30b,0,0.9\ns30b,10,1.4\ns30b,20,1.2\ns30b,30,1.6\ns30b,40,1.9\ns30b,50,1.7\ns30b,60,2.0\ns30b,70,1.8\ns30b,80,1.5\ns30b,90,1.6\ns30b,100,1.1\ns30b,108,-0.5\ns6,0,0.0\ns6,10,0.5\ns6,20,0.9\ns6,30,0.7\ns6,40,1.2\ns6,50,1.0\ns6,60,0.5\ns6,68,-0.5\ns14,0,1.3\ns14,10,1.6\ns14,20,2.0\ns14,30,1.85\ns14,40,2.1\ns14,50,2.0\ns14,60,1.7\ns14,70,1.9\ns14,80,1.6\ns14,90,1.2\ns14,100,0.7\ns14,108,-0.5\ns16,0,0.8\ns16,10,0.4\ns16,20,0.9\ns16,30,1.2\ns16,40,0.8\ns16,50,0.3\ns16,58,-0.5\ns1,0,0.8\ns1,10,1.2\ns1,20,1.0\ns1,30,1.4\ns1,40,1.1\ns1,50,0.6\ns1,60,-0.5\ns11,0,0.4\ns11,10,0.9\ns11,20,1.2\ns11,30,1.0\ns11,40,0.5\ns11,48,-0.5\ns37,0,1.6\ns37,10,1.9\ns37,20,2.1\ns37,30,2.0\ns37,40,2.25\ns37,50,2.1\ns37,60,1.8\ns37,70,1.9\ns37,80,1.5\ns37,90,1.0\ns37,98,-0.5\ns39,0,0.1\ns39,10,0.5\ns39,20,0.8\ns39,30,1.1\ns39,40,1.4\ns39,50,1.2\ns39,60,1.5\ns39,70,1.3\ns39,80,1.6\ns39,90,1.4\ns39,100,1.1\ns39,110,0.6\ns39,118,-0.5\ns41,0,0.3\ns41,10,1.0\ns41,20,1.4\ns41,30,1.8\ns41,40,1.6\ns41,50,2.0\ns41,60,1.85\ns41,70,2.1\ns41,80,1.9\ns41,90,2.2\ns41,100,2.0\ns41,110,2.1\ns41,120,1.8\ns41,130,1.9\ns41,140,1.5\ns41,150,1.6\ns41,160,1.2\ns41,170,0.7\ns41,178,-0.5\ns49,0,0.5\ns49,10,1.1\ns49,20,1.4\ns49,30,1.3\ns49,40,1.7\ns49,50,1.5\ns49,60,1.9\ns49,70,1.7\ns49,80,1.4\ns49,90,1.6\ns49,100,1.2\ns49,110,0.7\ns49,118,-0.5\ns8,0,1.4\ns8,10,1.7\ns8,20,1.9\ns8,30,2.1\ns8,40,1.95\ns8,50,2.25\ns8,60,2.1\ns8,70,2.3\ns8,80,2.15\ns8,90,2.0\ns8,100,2.2\ns8,110,1.9\ns8,120,1.7\ns8,130,1.8\ns8,140,1.4\ns8,150,1.0\ns8,160,-0.5\ns44,0,1.5\ns44,10,1.8\ns44,20,1.6\ns44,30,2.0\ns44,40,1.9\ns44,50,1.6\ns44,60,1.7\ns44,70,1.3\ns44,80,0.8\ns44,88,-0.5\ns4,0,0.5\ns4,10,0.2\ns4,20,0.6\ns4,30,-0.5\ns9,0,0.6\ns9,10,1.0\ns9,20,0.8\ns9,30,1.3\ns9,40,1.5\ns9,50,1.2\ns9,60,1.6\ns9,70,1.4\ns9,80,1.0\ns9,90,0.4\ns9,98,-0.5\ns42,0,0.6\ns42,10,0.9\ns42,20,0.5\ns42,28,-0.5\ns38,0,0.9\ns38,10,1.3\ns38,20,1.1\ns38,30,1.5\ns38,40,1.3\ns38,50,0.8\ns38,58,-0.5\ns13,0,0.0\ns13,10,0.6\ns13,20,1.1\ns13,30,1.5\ns13,40,1.3\ns13,50,1.7\ns13,60,1.9\ns13,70,2.0\ns13,80,1.8\ns13,90,1.5\ns13,100,1.7\ns13,110,1.3\ns13,120,0.8\ns13,128,-0.5\ns2,0,0.3\ns2,10,0.7\ns2,20,1.3\ns2,30,1.6\ns2,40,1.5\ns2,50,1.8\ns2,60,1.7\ns2,70,1.3\ns2,80,0.9\ns2,90,-0.5\ns48,0,0.2\ns48,10,0.7\ns48,20,1.1\ns48,30,1.5\ns48,40,1.7\ns48,50,1.5\ns48,60,1.9\ns48,70,2.1\ns48,80,2.0\ns48,90,2.2\ns48,100,2.1\ns48,110,2.3\ns48,120,2.1\ns48,130,2.2\ns48,140,2.0\ns48,160,2.1\ns48,180,1.8\ns48,200,1.9\ns48,220,1.6\ns48,240,1.7\ns48,250,1.3\ns48,260,0.8\ns48,268,-0.5\ns5,0,1.2\ns5,10,1.6\ns5,20,1.5\ns5,30,1.9\ns5,40,2.1\ns5,50,1.95\ns5,60,2.2\ns5,70,2.0\ns5,80,1.7\ns5,90,1.8\ns5,100,1.4\ns5,110,0.9\ns5,118,-0.5\ns17,0,1.0\ns17,10,1.4\ns17,20,1.7\ns17,30,2.0\ns17,40,2.15\ns17,50,1.9\ns17,60,2.05\ns17,70,2.3\ns17,80,2.2\ns17,90,2.4\ns17,100,2.25\ns17,110,2.0\ns17,120,2.1\ns17,130,1.9\ns17,140,2.1\ns17,150,1.8\ns17,160,1.6\ns17,170,1.2\ns17,180,1.4\ns17,190,0.9\ns17,200,-0.5\n"
  },
  "mark": {"type": "line", "clip": true, "strokeWidth": 1.3},
  "encoding": {
    "x": {
      "field": "g", "type": "quantitative",
      "scale": {"domain": [0, 3000], "nice": false, "zero": false},
      "axis": {"title": "Generations", "values": [0, 500, 1000, 1500, 2000, 2500, 3000], "format": "d", "grid": false, "domain": false, "tickColor": "black", "tickWidth": 1.8, "tickSize": 5, "labelFontSize": 19, "labelColor": "black", "labelFont": "Liberation Sans", "labelPadding": 8, "labelFlush": false, "labelOverlap": false, "labelBound": false, "titleFont": "Liberation Sans", "titleFontSize": 24, "titleFontWeight": "bold", "titleColor": "black", "titlePadding": 3}
    },
    "y": {
      "field": "v", "type": "quantitative",
      "scale": {"domain": [-0.19, 4.19], "nice": false, "zero": false},
      "axis": {"title": "Log10(Count)", "values": [0, 1, 2, 3, 4], "format": "d", "grid": false, "domain": false, "tickColor": "black", "tickWidth": 1.8, "tickSize": 5, "labelFontSize": 19, "labelColor": "black", "labelFont": "Liberation Sans", "labelPadding": 6, "labelFlush": false, "labelOverlap": false, "labelBound": false, "titleFont": "Liberation Sans", "titleFontSize": 24, "titleFontWeight": "bold", "titleColor": "black", "titlePadding": 16}
    },
    "color": {
      "field": "s", "type": "nominal", "legend": null,
      "scale": {
        "domain": ["G","B","M1","M2","M3","M4","M5","M6","M7","M8","M9","M10","M11","M12","M13","M14","M15","M16","M17","S1","S2","S3","S4","S5","S6","S7","s21","s22","s24","s25","s26","s27","s28","s29","s30","s31","s32","s33","s34","s50","s51","s52","s53","s54","s55","s56","s20","s23","s46","s19","s12","s45","s7","s40","s15","s3","s43","s10","s47","s18","s30b","s6","s14","s16","s1","s11","s37","s39","s41","s49","s8","s44","s4","s9","s42","s38","s13","s2","s48","s5","s17"],
        "range": ["#1DBE7F","#2196F3","#FF4FA0","#1AAFD3","#E8702A","#D38C0E","#F8646A","#E24FF0","#F75E64","#C99000","#17B4C6","#A3A500","#8FA300","#1BA9DE","#F45C62","#1BB146","#E363E8","#FF5C9E","#D856EE","#A3A500","#D89000","#00B4C0","#1DB544","#E8702A","#00A5FF","#5BB300","#00BA38","#6BB100","#619CFF","#E58700","#A3A500","#00C08B","#00BCD8","#00BFC4","#FF62BC","#00A9FF","#00BA38","#E58700","#C49A00","#00B0F6","#F564E3","#FF61C3","#C77CFF","#00C0AF","#E76BF3","#FF6C91","#00B0F6","#00BFC4","#B983FF","#C77CFF","#E76BF3","#E76BF3","#F564E3","#F564E3","#FB61D7","#FF61C3","#FF61C3","#FF62BC","#FF62BC","#FF5FA0","#FF6392","#FF5FA0","#FF6392","#FF6C91","#FF6392","#FF6A98","#FF6392","#FF5FA0","#FF6C91","#FF6392","#FF6C91","#FB6A84","#FB6A84","#F8766D","#F8766D","#F8766D","#F8766D","#F8766D","#F8766D","#F8766D","#F8766D"]
      }
    }
  }
}
